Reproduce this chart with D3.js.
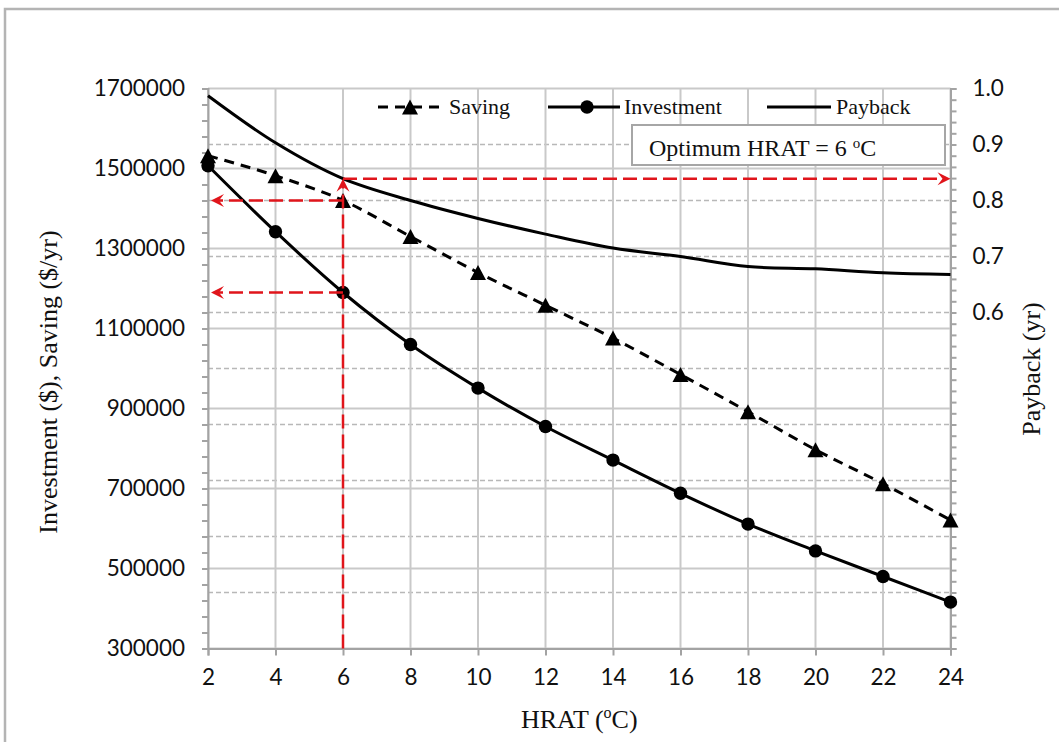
<!DOCTYPE html>
<html>
<head>
<meta charset="utf-8">
<script src="https://cdn.jsdelivr.net/npm/d3@7/dist/d3.min.js"></script>
<style>
  html, body { margin: 0; padding: 0; background: #fff; }
  svg { display: block; }
</style>
</head>
<body>
<svg id="chart" width="1059" height="742"></svg>
<script>
// HRAT (°C) on the x axis
const hrat = [2, 4, 6, 8, 10, 12, 14, 16, 18, 20, 22, 24];
// Annual saving ($/yr)
const saving = [1532000, 1482000, 1420000, 1330000, 1240000, 1158000, 1076000, 985000, 892000, 797000, 712000, 621000];
// Investment ($)
const investment = [1507000, 1342000, 1190000, 1060000, 951000, 855000, 771000, 688000, 611000, 544000, 480000, 416000];
// Payback (yr), right axis
const payback = [0.987, 0.903, 0.839, 0.800, 0.768, 0.740, 0.715, 0.700, 0.682, 0.678, 0.671, 0.668];

const leftTicks = [300000, 500000, 700000, 900000, 1100000, 1300000, 1500000, 1700000];
const rightLabels = ["0.6", "0.7", "0.8", "0.9", "1.0"];
const optimumHrat = 6;

const svg = d3.select("#chart");
const plot = { left: 208, right: 950.5, top: 88.5, bottom: 648.5 };

const x = d3.scaleLinear().domain([2, 24]).range([plot.left, plot.right]);
const yL = d3.scaleLinear().domain([300000, 1700000]).range([plot.bottom, plot.top]);
const yR = d3.scaleLinear().domain([0, 1]).range([plot.bottom, plot.top]);

const gridGrey = "#c9c9c9";
const axisGrey = "#a3a3a3";
const red = "#e0151b";
const tickFont = "Lato, 'Open Sans', sans-serif";
const tickSize = 22.5;

// outer frame
svg.append("rect").attr("x", 5).attr("y", 9).attr("width", 1070).attr("height", 760)
  .attr("fill", "none").attr("stroke", "#b4b4b4").attr("stroke-width", 2.5);

// dashed horizontal grid from the right axis major ticks
svg.append("g").selectAll("line").data(d3.range(1, 10).map(i => i / 10)).join("line")
  .attr("x1", plot.left).attr("x2", plot.right)
  .attr("y1", d => yR(d)).attr("y2", d => yR(d))
  .attr("stroke", "#b8b8b8").attr("stroke-width", 1.5).attr("stroke-dasharray", "5,3");

// solid horizontal grid from the left axis
svg.append("g").selectAll("line").data(leftTicks).join("line")
  .attr("x1", plot.left).attr("x2", plot.right)
  .attr("y1", d => yL(d)).attr("y2", d => yL(d))
  .attr("stroke", gridGrey).attr("stroke-width", 2);

// vertical grid
svg.append("g").selectAll("line").data(hrat).join("line")
  .attr("x1", d => x(d)).attr("x2", d => x(d))
  .attr("y1", plot.top).attr("y2", plot.bottom)
  .attr("stroke", gridGrey).attr("stroke-width", 2);

// x axis
const xAxis = d3.axisBottom(x).tickValues(hrat).tickSize(7).tickPadding(14).tickFormat(d3.format("d"));
const gx = svg.append("g").attr("transform", `translate(0,${plot.bottom})`).call(xAxis);
gx.select(".domain").attr("stroke", axisGrey).attr("stroke-width", 2);
gx.selectAll(".tick line").attr("stroke", axisGrey).attr("stroke-width", 2);
gx.selectAll(".tick text").attr("font-family", tickFont).attr("font-size", tickSize).attr("fill", "#111");

// left axis: labelled every 200000, minor ticks every 40000
const yAxisMinor = d3.axisLeft(yL).tickValues(d3.range(300000, 1700001, 40000)).tickSize(6).tickFormat("");
const gyMinor = svg.append("g").attr("transform", `translate(${plot.left},0)`).call(yAxisMinor);
gyMinor.select(".domain").attr("stroke", axisGrey).attr("stroke-width", 2);
gyMinor.selectAll(".tick line").attr("stroke", axisGrey).attr("stroke-width", 2);

const yAxis = d3.axisLeft(yL).tickValues(leftTicks).tickSize(6).tickPadding(17).tickFormat(d3.format("d"));
const gy = svg.append("g").attr("transform", `translate(${plot.left},0)`).call(yAxis);
gy.select(".domain").remove();
gy.selectAll(".tick line").attr("stroke", axisGrey).attr("stroke-width", 2);
gy.selectAll(".tick text").attr("font-family", tickFont).attr("font-size", tickSize).attr("fill", "#111");

// right axis: minor ticks every 0.02, labels from 0.6 upwards
const yRMinor = d3.axisRight(yR).tickValues(d3.range(0, 51).map(i => i / 50)).tickSize(6).tickFormat("");
const gr = svg.append("g").attr("transform", `translate(${plot.right},0)`).call(yRMinor);
gr.select(".domain").attr("stroke", axisGrey).attr("stroke-width", 2);
gr.selectAll(".tick line").attr("stroke", axisGrey).attr("stroke-width", 2);

const yRAxis = d3.axisRight(yR).tickValues(rightLabels.map(Number)).tickSize(0).tickPadding(22)
  .tickFormat((d, i) => rightLabels[i]);
const grl = svg.append("g").attr("transform", `translate(${plot.right},0)`).call(yRAxis);
grl.select(".domain").remove();
grl.selectAll(".tick text").attr("font-family", tickFont).attr("font-size", tickSize).attr("fill", "#111");

// series
const lineSaving = d3.line().x((d, i) => x(hrat[i])).y(d => yL(d)).curve(d3.curveMonotoneX);
const lineInv = d3.line().x((d, i) => x(hrat[i])).y(d => yL(d)).curve(d3.curveMonotoneX);
const linePay = d3.line().x((d, i) => x(hrat[i])).y(d => yR(d)).curve(d3.curveCatmullRom.alpha(0.5));

svg.append("path").datum(payback).attr("d", linePay)
  .attr("fill", "none").attr("stroke", "#000").attr("stroke-width", 3);

svg.append("path").datum(saving).attr("d", lineSaving)
  .attr("fill", "none").attr("stroke", "#000").attr("stroke-width", 3).attr("stroke-dasharray", "10,7");

svg.append("path").datum(investment).attr("d", lineInv)
  .attr("fill", "none").attr("stroke", "#000").attr("stroke-width", 3);

// triangle marker centred on its bounding box
const triangleType = {
  draw(ctx, size) {
    const w = Math.sqrt(size) / 2, h = Math.sqrt(size) * 0.94 / 2;
    ctx.moveTo(0, -h);
    ctx.lineTo(w, h);
    ctx.lineTo(-w, h);
    ctx.closePath();
  }
};
const tri = d3.symbol().type(triangleType).size(256);
svg.append("g").selectAll("path").data(saving).join("path")
  .attr("d", tri).attr("transform", (d, i) => `translate(${x(hrat[i])},${yL(d)})`).attr("fill", "#000");

svg.append("g").selectAll("circle").data(investment).join("circle")
  .attr("cx", (d, i) => x(hrat[i])).attr("cy", d => yL(d)).attr("r", 6.7).attr("fill", "#000");

// red guide arrows at the optimum
const iOpt = hrat.indexOf(optimumHrat);
const xo = x(optimumHrat);
const yPay = yR(payback[iOpt]);
const ySav = yL(saving[iOpt]);
const yInv = yL(investment[iOpt]);

function arrow(x1, y1, x2, y2) {
  const g = svg.append("g");
  const ang = Math.atan2(y2 - y1, x2 - x1);
  const L = 13, W = 6.5, notch = 5;
  const bx = x2 - L * Math.cos(ang), by = y2 - L * Math.sin(ang);
  const nx = x2 - (L - notch) * Math.cos(ang), ny = y2 - (L - notch) * Math.sin(ang);
  g.append("line").attr("x1", x1).attr("y1", y1).attr("x2", nx).attr("y2", ny)
    .attr("stroke", red).attr("stroke-width", 2.5).attr("stroke-dasharray", "14,6");
  const px = -Math.sin(ang), py = Math.cos(ang);
  g.append("path")
    .attr("d", `M${x2},${y2}L${bx + px * W},${by + py * W}L${nx},${ny}L${bx - px * W},${by - py * W}Z`)
    .attr("fill", red);
}
arrow(xo, plot.bottom, xo, yPay);
arrow(xo, yPay, plot.right, yPay);
arrow(xo, ySav, plot.left + 3, ySav);
arrow(xo, yInv, plot.left + 3, yInv);

// legend
const serif = "'Liberation Serif', 'Times New Roman', serif";
const lg = svg.append("g");
const ly = 107;
lg.append("line").attr("x1", 378).attr("x2", 442).attr("y1", ly).attr("y2", ly)
  .attr("stroke", "#000").attr("stroke-width", 3).attr("stroke-dasharray", "10,7");
lg.append("path").attr("d", tri).attr("transform", `translate(410,${ly})`).attr("fill", "#000");
lg.append("text").attr("x", 449).attr("y", ly + 7).text("Saving")
  .attr("font-family", serif).attr("font-size", 22).attr("fill", "#111");

lg.append("line").attr("x1", 548).attr("x2", 620).attr("y1", ly).attr("y2", ly)
  .attr("stroke", "#000").attr("stroke-width", 3);
lg.append("circle").attr("cx", 587).attr("cy", ly).attr("r", 6.7).attr("fill", "#000");
lg.append("text").attr("x", 624).attr("y", ly + 7).text("Investment")
  .attr("font-family", serif).attr("font-size", 22).attr("fill", "#111");

lg.append("line").attr("x1", 767).attr("x2", 831).attr("y1", ly).attr("y2", ly)
  .attr("stroke", "#000").attr("stroke-width", 3);
lg.append("text").attr("x", 836).attr("y", ly + 7).text("Payback")
  .attr("font-family", serif).attr("font-size", 22).attr("fill", "#111");

// optimum annotation box
svg.append("rect").attr("x", 632).attr("y", 125).attr("width", 313).attr("height", 40)
  .attr("fill", "#fff").attr("stroke", "#a6a6a6").attr("stroke-width", 2);
const ann = svg.append("text").attr("x", 649).attr("y", 156)
  .attr("font-family", serif).attr("font-size", 24).attr("fill", "#111");
ann.append("tspan").text(`Optimum HRAT = ${optimumHrat} `);
ann.append("tspan").text("o").attr("font-size", 15).attr("dy", -8);
ann.append("tspan").text("C").attr("dy", 8);

// axis titles
const xt = svg.append("text").attr("x", (plot.left + plot.right) / 2).attr("y", 728)
  .attr("text-anchor", "middle").attr("font-family", serif).attr("font-size", 26).attr("fill", "#111");
xt.append("tspan").text("HRAT (");
xt.append("tspan").text("o").attr("font-size", 16).attr("dy", -10);
xt.append("tspan").text("C)").attr("dy", 10);

svg.append("text").attr("transform", "translate(57,382) rotate(-90)")
  .attr("text-anchor", "middle").attr("font-family", serif).attr("font-size", 26).attr("fill", "#111")
  .text("Investment ($), Saving ($/yr)");

svg.append("text").attr("transform", "translate(1040,369) rotate(-90)")
  .attr("text-anchor", "middle").attr("font-family", serif).attr("font-size", 26).attr("fill", "#111")
  .text("Payback (yr)");
</script>
</body>
</html>
